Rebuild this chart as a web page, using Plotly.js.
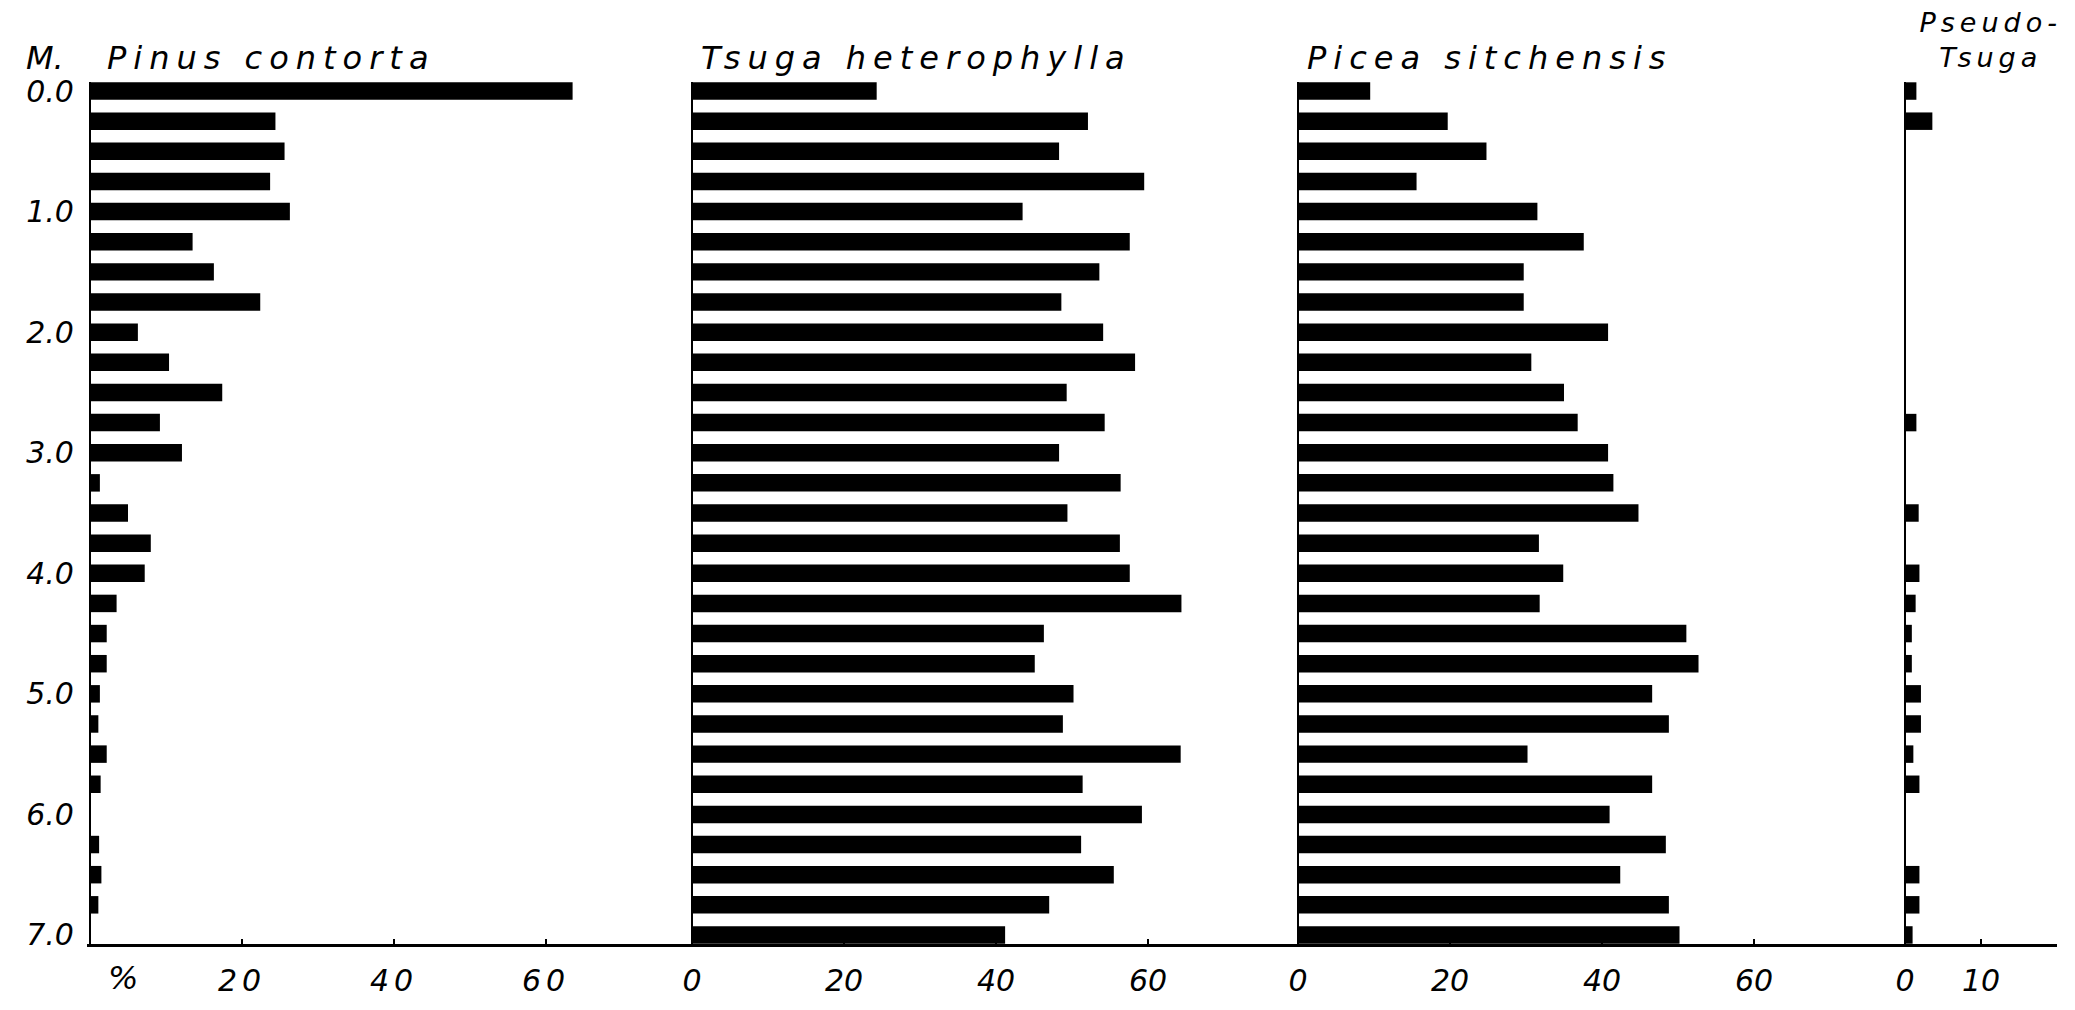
<!DOCTYPE html>
<html><head><meta charset="utf-8">
<script src="https://cdn.plot.ly/plotly-3.0.1.min.js"></script>
<style>html,body{margin:0;padding:0;background:#fff;}#chart{width:2075px;height:1010px;}</style>
</head><body><div id="chart"></div>
<script>
// ---- data (depth in metres, pollen percentages) ----
const depths = [0.0,0.25,0.5,0.75,1.0,1.25,1.5,1.75,2.0,2.25,2.5,2.75,3.0,3.25,3.5,3.75,4.0,4.25,4.5,4.75,5.0,5.25,5.5,5.75,6.0,6.25,6.5,6.75,7.0];
const pinusContorta = [63.5,24.4,25.6,23.7,26.3,13.5,16.3,22.4,6.3,10.4,17.4,9.2,12.1,1.3,5.0,8.0,7.2,3.5,2.2,2.2,1.3,1.1,2.2,1.4,0,1.2,1.5,1.1,0];
const tsugaHeterophylla = [24.3,52.1,48.3,59.5,43.5,57.6,53.6,48.6,54.1,58.3,49.3,54.3,48.3,56.4,49.4,56.3,57.6,64.4,46.3,45.1,50.2,48.8,64.3,51.4,59.2,51.2,55.5,47.0,41.2];
const piceaSitchensis = [9.5,19.7,24.8,15.6,31.5,37.6,29.7,29.7,40.8,30.7,35.0,36.8,40.8,41.5,44.8,31.7,34.9,31.8,51.1,52.7,46.6,48.8,30.2,46.6,41.0,48.4,42.4,48.8,50.2];
const pseudotsuga = [1.5,3.6,0,0,0,0,0,0,0,0,0,1.5,0,0,1.8,0,1.9,1.4,0.9,0.9,2.1,2.1,1.1,1.9,0,0,1.9,1.9,1.0];

const depthTickVals = [0,1,2,3,4,5,6,7];
const depthTickText = ['0.0','1.0','2.0','3.0','4.0','5.0','6.0','7.0'];
const pctTickVals = [[20,40,60],[0,20,40,60],[0,20,40,60],[0,10]];
const pctTickText = [['20','40','60'],['0','20','40','60'],['0','20','40','60'],['0','10']];
const depthUnitLabel = 'M.';
const percentLabel = '%';
const panelTitles = ['Pinus contorta','Tsuga heterophylla','Picea sitchensis'];
const pseudoTitle = 'Pseudo-<br>Tsuga';
const seriesList = [pinusContorta, tsugaHeterophylla, piceaSitchensis, pseudotsuga];

// ---- layout geometry ----
const W = 2075, H = 1010;
const PXU = 7.6;                 // pixels per percent
const zeroPx = [90, 692, 1298, 1905];
const endPx = 2057;
const pad = 0.4;
const yTopPx = 82, yBotPx = 944;
const FONT = 'DejaVu Sans, Liberation Sans, sans-serif';

const data = seriesList.map((vals, i) => ({
  type: 'bar', orientation: 'h',
  x: vals, y: depths,
  width: 0.145,
  marker: {color: '#000', line: {width: 0}},
  xaxis: i === 0 ? 'x' : 'x' + (i + 1),
  yaxis: 'y',
  hoverinfo: 'skip', showlegend: false
}));

const layout = {
  width: W, height: H,
  margin: {l: 0, r: 0, t: 0, b: 0},
  paper_bgcolor: '#fff', plot_bgcolor: 'rgba(0,0,0,0)',
  showlegend: false,
  yaxis: {
    anchor: 'x',
    domain: [1 - yBotPx / H, 1 - yTopPx / H],
    range: [7.075, -0.075],
    tickvals: depthTickVals, ticktext: depthTickText,
    ticks: 'outside', ticklen: 6, tickcolor: 'rgba(0,0,0,0)',
    showline: false, showgrid: false, zeroline: false,
    tickfont: {family: FONT, size: 30, color: '#000', style: 'italic', weight: 300}
  },
  annotations: [],
  shapes: []
};

for (let i = 0; i < 4; i++) {
  const d0 = zeroPx[i] - pad * PXU;
  const d1 = i < 3 ? zeroPx[i + 1] - pad * PXU : endPx;
  const key = i === 0 ? 'xaxis' : 'xaxis' + (i + 1);
  layout[key] = {
    anchor: 'y',
    domain: [d0 / W, d1 / W],
    range: [-pad, (d1 - zeroPx[i]) / PXU],
    tickvals: pctTickVals[i], ticktext: pctTickText[i],
    ticks: 'inside', ticklen: 5, tickwidth: 2, tickcolor: '#000',
    ticklabelstandoff: 8,
    showline: true, linewidth: 3, linecolor: '#000',
    zeroline: true, zerolinewidth: 2, zerolinecolor: '#000',
    showgrid: false,
    tickfont: {family: FONT, size: 30, color: '#000', style: 'italic', weight: 300}
  };
}

const titleFont = {family: FONT, size: 32, color: '#000', style: 'italic', weight: 300};
function paperAnn(text, px, py, extra) {
  return Object.assign({text: text, xref: 'paper', yref: 'paper', x: px / W, y: 1 - py / H,
    xanchor: 'left', yanchor: 'middle', align: 'left', showarrow: false, font: titleFont}, extra || {});
}
layout.annotations.push(paperAnn(depthUnitLabel, 24, 58));
const titleLeft = [105, 699, 1305];
panelTitles.forEach((t, i) => layout.annotations.push(paperAnn(t, titleLeft[i], 58)));
layout.annotations.push(paperAnn(pseudoTitle, 1990, 40, {
  xanchor: 'center', align: 'center',
  font: {family: FONT, size: 27, color: '#000', style: 'italic', weight: 300}
}));
layout.annotations.push({text: percentLabel, xref: 'x', yref: 'paper', x: 4.3, y: 1 - 978 / H,
  xanchor: 'center', yanchor: 'middle', showarrow: false, font: titleFont});

Plotly.newPlot('chart', data, layout, {staticPlot: true, displayModeBar: false}).then(() => {
  document.querySelectorAll('g.annotation text').forEach(t => {
    const s = t.textContent;
    if (panelTitles.includes(s)) t.style.letterSpacing = '7px';
    else if (s.indexOf('Pseudo') === 0) t.style.letterSpacing = '5px';
  });
  document.querySelectorAll('g.xtick text').forEach(t => { t.style.letterSpacing = '5px'; });
});
</script></body></html>
